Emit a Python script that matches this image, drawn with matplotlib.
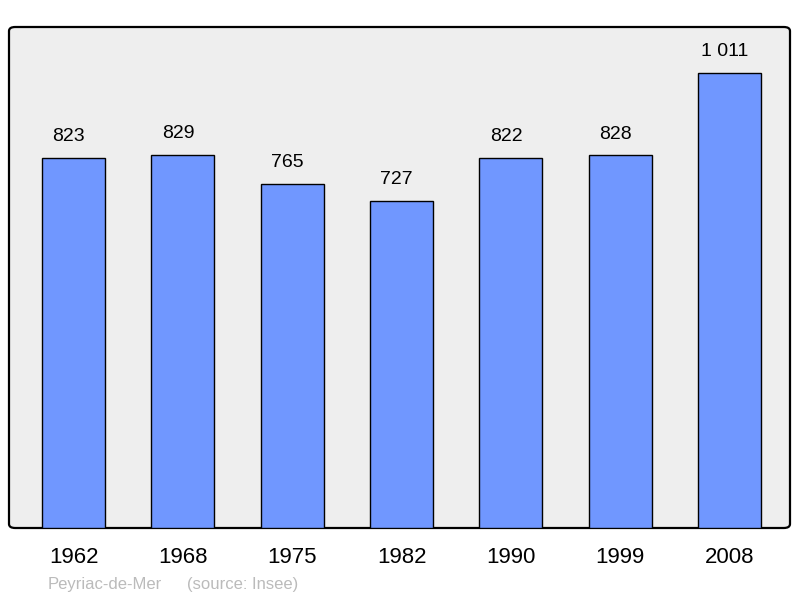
import matplotlib.pyplot as plt
from matplotlib.patches import FancyBboxPatch

plt.rcParams['font.family'] = ['Liberation Sans', 'DejaVu Sans']

years = ['1962', '1968', '1975', '1982', '1990', '1999', '2008']
population = [823, 829, 765, 727, 822, 828, 1011]
value_labels = ['823', '829', '765', '727', '822', '828', '1 011']

fig = plt.figure(figsize=(8, 5.98), dpi=100)
ax = fig.add_axes([9 / 800, 70 / 598, 781 / 800, 501 / 598])
ax.set_facecolor('none')

# rounded grey frame behind the bars
frame = FancyBboxPatch((0, 0), 1, 1, boxstyle='round,pad=0,rounding_size=0.008',
                       transform=ax.transAxes, facecolor='#eeeeee',
                       edgecolor='black', linewidth=1.6, zorder=0, clip_on=False)
ax.add_patch(frame)

x = list(range(len(years)))
ax.bar(x, population, width=0.576, color='#7097ff', edgecolor='black',
       linewidth=1.0, zorder=2)

for xi, v, lab in zip(x, population, value_labels):
    ax.annotate(lab, (xi, v), xytext=(-3.5, 9), textcoords='offset points',
                ha='center', va='bottom', fontsize=14, color='black')

ax.set_xlim(-0.59, 6.553)
ax.set_ylim(0, 1113)
for s in ax.spines.values():
    s.set_visible(False)
ax.set_yticks([])
ax.set_xticks(x)
ax.set_xticklabels(years, fontsize=16)
ax.tick_params(axis='x', length=0, pad=14)

fig.text(48 / 800, 1 - 584 / 598, 'Peyriac-de-Mer', color='#bbbbbb',
         fontsize=12, va='center', ha='left')
fig.text(187 / 800, 1 - 584 / 598, '(source: Insee)', color='#bbbbbb',
         fontsize=12, va='center', ha='left')

fig.savefig('out.png', dpi=100)
